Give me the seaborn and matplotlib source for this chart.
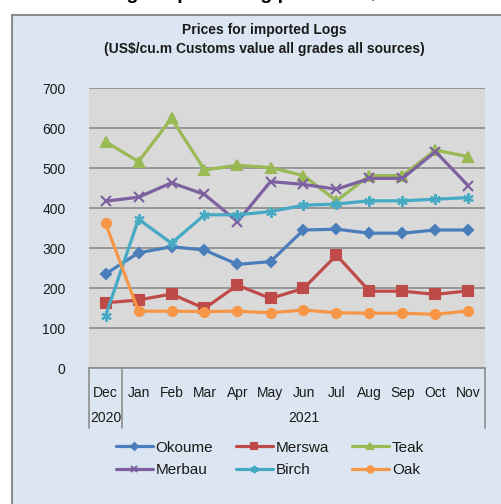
import matplotlib
matplotlib.use("Agg")
import matplotlib.pyplot as plt
import matplotlib.transforms as mtransforms
from matplotlib.patches import Rectangle
import seaborn as sns
import pandas as pd

months = ["Dec", "Jan", "Feb", "Mar", "Apr", "May", "Jun", "Jul", "Aug", "Sep", "Oct", "Nov"]
years = ["2020", "2021"]
okoume = [235, 288, 303, 295, 259, 266, 345, 347, 337, 337, 345, 345]
merswa = [163, 170, 185, 149, 207, 174, 199, 282, 192, 192, 184, 193]
teak = [566, 516, 624, 495, 507, 501, 481, 418, 481, 481, 545, 528]
merbau = [417, 427, 463, 434, 366, 466, 459, 447, 474, 474, 541, 455]
birch = [130, 372, 312, 383, 383, 391, 407, 410, 418, 418, 422, 426]
oak = [362, 142, 142, 141, 142, 138, 145, 138, 137, 137, 134, 143]

series = {"Okoume": okoume, "Merswa": merswa, "Teak": teak,
          "Merbau": merbau, "Birch": birch, "Oak": oak}
colors = {"Okoume": "#4A7EBB", "Merswa": "#BE4B48", "Teak": "#98B954",
          "Merbau": "#7D60A0", "Birch": "#46AAC5", "Oak": "#F79646"}
markers = {"Okoume": "D", "Merswa": "s", "Teak": "^",
           "Merbau": "x", "Birch": (6, 2, 0), "Oak": "o"}
msizes = {"Okoume": 5, "Merswa": 6.5, "Teak": 7, "Merbau": 6.5, "Birch": 7.5, "Oak": 6.5}

rows = []
for name, vals in series.items():
    for i, v in enumerate(vals):
        rows.append({"series": name, "x": i, "value": v})
df = pd.DataFrame(rows)

sns.set_theme(style="white")
plt.rcParams["font.family"] = ["Liberation Sans", "DejaVu Sans"]

W, H = 502, 504
fig = plt.figure(figsize=(W / 100, H / 100), dpi=100)
fig.patch.set_facecolor("white")

# outer panel
panel = Rectangle((12 / W, -0.01), 1.02 - 12 / W, 1 - 15 / H + 0.01,
                  transform=fig.transFigure, facecolor="#DCE6F2",
                  edgecolor="#8C8C8C", linewidth=1.5, zorder=-10)
fig.patches.append(panel)

# cut-off heading at very top (only descenders visible, as in the reference)
fig.text(0.5, 1 + 1 / H, "Average imported log prices US$/cu.m", ha="center",
         va="baseline", fontsize=14, fontweight="bold", color="black")

left, right = 89 / W, 485 / W
bottom, top = 1 - 368 / H, 1 - 88 / H
ax = fig.add_axes([left, bottom, right - left, top - bottom])
ax.set_zorder(1)
ax.set_facecolor("#D9D9D9")

for name in series:
    sub = df[df["series"] == name]
    sns.lineplot(data=sub, x="x", y="value", ax=ax, color=colors[name],
                 linewidth=2.3, marker=markers[name], markersize=msizes[name],
                 markeredgecolor=colors[name], markeredgewidth=1.5,
                 label=name, legend=False, zorder=3)

ax.set_xlim(-0.5, 11.5)
ax.set_ylim(0, 700)
ax.set_yticks(range(0, 701, 100))
ax.yaxis.grid(True, color="#8C8C8C", linewidth=1.2)
ax.set_axisbelow(True)
for s in ["left", "right", "top"]:
    ax.spines[s].set_visible(False)
ax.spines["bottom"].set_color("#8C8C8C")
ax.spines["bottom"].set_linewidth(1.2)
ax.set_xlabel("")
ax.set_ylabel("")
ax.tick_params(axis="y", length=0, pad=17, labelsize=10, labelcolor="#1A1A1A")
ax.set_xticks(range(12))
ax.set_xticklabels(months)
ax.tick_params(axis="x", length=0, pad=13, labelsize=10, labelcolor="#1A1A1A")

trans = mtransforms.blended_transform_factory(ax.transData, ax.transAxes)
for xv in [-0.5, 0.5, 11.5]:
    ax.plot([xv, xv], [0, -60 / 280], transform=trans, color="#8C8C8C",
            linewidth=1.2, clip_on=False)
ax.text(0, -50 / 280, years[0], transform=trans, ha="center", va="center",
        fontsize=10, color="#1A1A1A")
ax.text(6, -50 / 280, years[1], transform=trans, ha="center", va="center",
        fontsize=10, color="#1A1A1A")

# titles
fig.text(264 / W, 1 - 30 / H, "Prices for imported Logs", ha="center", va="center",
         fontsize=10, fontweight="bold", color="#1A1A1A")
fig.text(264 / W, 1 - 49 / H, "(US$/cu.m Customs value all grades all sources)",
         ha="center", va="center", fontsize=10, fontweight="bold", color="#1A1A1A")

# legend (row-wise order)
handles, labels = ax.get_legend_handles_labels()
hmap = dict(zip(labels, handles))
order = ["Okoume", "Merbau", "Merswa", "Birch", "Teak", "Oak"]
leg = fig.legend([hmap[k] for k in order], order, ncol=3,
                 loc="center", bbox_to_anchor=(270 / W, 1 - 459 / H),
                 frameon=False, fontsize=11, handlelength=2.4,
                 handletextpad=0.2, columnspacing=1.5, labelspacing=0.55,
                 markerscale=0.7)
for t in leg.get_texts():
    t.set_color("#1A1A1A")

fig.savefig("out.png", dpi=100, facecolor=fig.get_facecolor())
